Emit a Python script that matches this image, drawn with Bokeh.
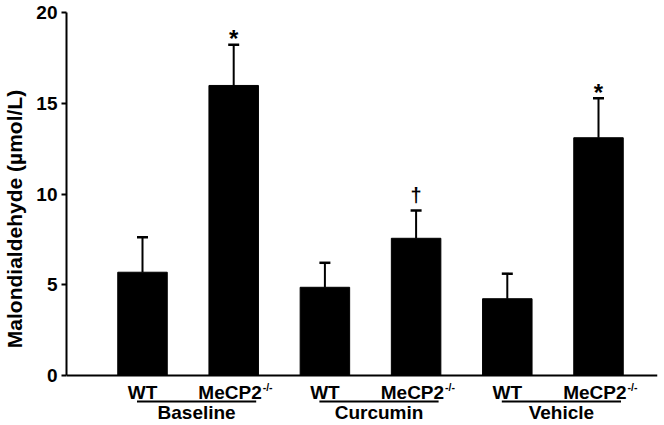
from bokeh.plotting import figure
from bokeh.models import Range1d, FixedTicker, ColumnDataSource, Whisker, TeeHead, Span, LinearAxis
from bokeh.core.properties import value
from bokeh.embed import file_html
from bokeh.resources import INLINE

# ---------------- data ----------------
groups = ["Baseline", "Curcumin", "Vehicle"]
wt_label = "WT"
ko_label = "MeCP2"
ko_sup = "-/-"
wt_mean = [5.69, 4.86, 4.23]
wt_sem = [1.93, 1.35, 1.38]
ko_mean = [15.98, 7.56, 13.10]
ko_sem = [2.24, 1.53, 2.18]
ko_marks = ["*", "\u2020", "*"]
y_ticks = [0, 5, 10, 15, 20]
y_label = "Malondialdehyde (\u00b5mol/L)"

# ---------------- layout (pixels) ----------------
W, H = 664, 425
B_LEFT, B_RIGHT, B_TOP, B_BOTTOM = 66, 7, 12, 0
FRAME_W = W - B_LEFT - B_RIGHT
FRAME_H = H - B_TOP - B_BOTTOM
Y_MAX = 20
ZERO_FROM_TOP = 363
PX_Y = ZERO_FROM_TOP / Y_MAX
Y_MIN = -(FRAME_H - ZERO_FROM_TOP) / PX_Y
PX_X = 91.2
FIRST_BAR_PX = 76
X_MIN = 1 - FIRST_BAR_PX / PX_X
X_MAX = X_MIN + FRAME_W / PX_X

FONT = "Liberation Sans"

wt_x = [2 * i + 1 for i in range(len(groups))]
ko_x = [2 * i + 2 for i in range(len(groups))]

p = figure(width=W, height=H, x_range=Range1d(X_MIN, X_MAX), y_range=Range1d(Y_MIN, Y_MAX),
           output_backend="svg", toolbar_location=None,
           x_axis_location=None, y_axis_location=None,
           min_border_left=B_LEFT, min_border_right=B_RIGHT,
           min_border_top=B_TOP, min_border_bottom=B_BOTTOM)
p.grid.visible = False
p.outline_line_color = None
p.background_fill_color = "white"
p.border_fill_color = "white"

yaxis = LinearAxis(bounds=(0, Y_MAX), ticker=FixedTicker(ticks=y_ticks), axis_label=y_label)
yaxis.axis_line_width = 2
yaxis.axis_line_color = "black"
yaxis.major_tick_line_width = 2
yaxis.major_tick_out = 5
yaxis.major_tick_in = 0
yaxis.minor_tick_out = 0
yaxis.minor_tick_in = 0
yaxis.major_label_standoff = 4
yaxis.major_label_text_font = FONT
yaxis.major_label_text_font_style = "bold"
yaxis.major_label_text_font_size = "19px"
yaxis.major_label_text_color = "black"
yaxis.axis_label_text_font = FONT
yaxis.axis_label_text_font_style = "bold"
yaxis.axis_label_text_font_size = "21px"
yaxis.axis_label_text_color = "black"
yaxis.axis_label_standoff = 7
p.add_layout(yaxis, "left")

# x axis baseline
p.add_layout(Span(location=0, dimension="width", line_color="black", line_width=2))

xs = wt_x + ko_x
tops = wt_mean + ko_mean
sems = wt_sem + ko_sem
src = ColumnDataSource(dict(x=xs, top=tops, upper=[t + s for t, s in zip(tops, sems)]))
p.vbar(x="x", top="top", bottom=0, width=49.5 / PX_X, source=src, fill_color="black", line_color="black")

p.add_layout(Whisker(base="x", lower="top", upper="upper", source=src, dimension="height",
                     line_width=2, line_color="black", lower_head=None,
                     upper_head=TeeHead(size=11, line_width=2.5, line_color="black")))

# significance marks
MARK_OFFSET = {"*": -6, "\u2020": -16}
MARK_SIZE = {"*": "24px", "\u2020": "20px"}
mk = ColumnDataSource(dict(x=ko_x, y=[m + s for m, s in zip(ko_mean, ko_sem)], t=ko_marks,
                           dy=[MARK_OFFSET[m] for m in ko_marks],
                           fs=[MARK_SIZE[m] for m in ko_marks]))
p.text(x="x", y="y", text="t", y_offset="dy", source=mk, text_align="center",
       text_baseline="alphabetic", text_font=value(FONT), text_font_style="bold",
       text_font_size="fs", text_color="black")

# category labels
CAT_DY = 16.5
p.text(x=wt_x, y=[0] * len(wt_x), text=[wt_label] * len(wt_x), y_offset=CAT_DY,
       text_align="center", text_baseline="alphabetic", text_font=value(FONT),
       text_font_style="bold", text_font_size="19px", text_color="black")
p.text(x=ko_x, y=[0] * len(ko_x), text=[ko_label] * len(ko_x), y_offset=CAT_DY, x_offset=28,
       text_align="right", text_baseline="alphabetic", text_font=value(FONT),
       text_font_style="bold", text_font_size="19px", text_color="black")
p.text(x=ko_x, y=[0] * len(ko_x), text=[ko_sup] * len(ko_x), y_offset=CAT_DY - 5, x_offset=29,
       text_align="left", text_baseline="alphabetic", text_font=value(FONT),
       text_font_style="bold", text_font_size="10.5px", text_color="black")

# group underline + group label
UL_Y = -26 / PX_Y
ul_l = [x - 5.5 / PX_X for x in wt_x]
ul_r = [x + 22.5 / PX_X for x in ko_x]
p.segment(x0=ul_l, y0=[UL_Y] * len(ul_l), x1=ul_r, y1=[UL_Y] * len(ul_r),
          line_color="black", line_width=2)
p.text(x=[(a + b) / 2 for a, b in zip(ul_l, ul_r)], y=[0] * len(groups), text=groups,
       y_offset=37, text_align="center", text_baseline="alphabetic", text_font=value(FONT),
       text_font_style="bold", text_font_size="19px", text_color="black")

open("out.html", "w").write(file_html(p, INLINE))
